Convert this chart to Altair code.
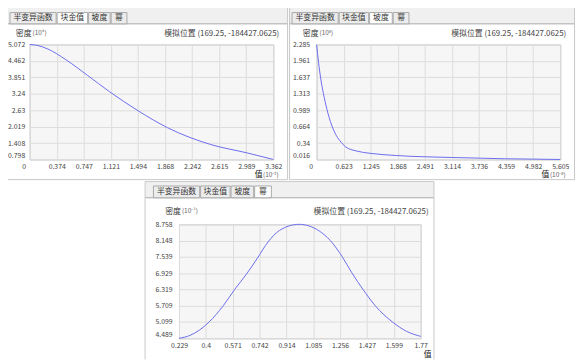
import altair as alt
import pandas as pd

FONT = "Noto Sans CJK SC"
LINE_COLOR = "#6b6bee"

# ---------------- text ----------------
tab_labels = ["半变异函数", "块金值", "坡度", "幂"]
density_label = "密度"
location_label = "模拟位置 (169.25, -184427.0625)"
value_label = "值"

# ---------------- panel 1: 块金值 ----------------
nugget_x = [0, 0.1, 0.25, 0.5, 0.8, 1.1, 1.5, 1.9, 2.5, 3.0, 3.362]
nugget_y = [5.072, 5.042, 4.907, 4.507, 3.922, 3.322, 2.602, 1.982, 1.352, 1.042, 0.798]
nugget_xticks = [0, 0.374, 0.747, 1.121, 1.494, 1.868, 2.242, 2.615, 2.989, 3.362]
nugget_yticks = [0.798, 1.408, 2.019, 2.63, 3.24, 3.851, 4.462, 5.072]
nugget_y_exp = "(10⁴)"
nugget_x_exp = "(10⁻⁵)"

# ---------------- panel 2: 坡度 ----------------
slope_x = [0, 0.045, 0.097, 0.158, 0.233, 0.346, 0.452, 0.565, 0.662, 0.927, 1.227, 1.831, 3.112, 4.317, 5.605]
slope_y = [2.285, 1.936, 1.606, 1.315, 1.025, 0.695, 0.492, 0.356, 0.268, 0.181, 0.138, 0.094, 0.055, 0.030, 0.016]
slope_xticks = [0, 0.623, 1.245, 1.868, 2.491, 3.114, 3.736, 4.359, 4.982, 5.605]
slope_yticks = [0.016, 0.34, 0.664, 0.989, 1.313, 1.637, 1.961, 2.285]
slope_y_exp = "(10⁸)"
slope_x_exp = "(10⁻⁸)"

# ---------------- panel 3: 幂 ----------------
power_x = [0.229, 0.30, 0.36, 0.421, 0.511, 0.584, 0.66, 0.73, 0.797, 0.87, 0.995,
           1.12, 1.194, 1.27, 1.33, 1.402, 1.48, 1.59, 1.68, 1.77]
power_y = [4.489, 4.60, 4.80, 5.099, 5.709, 6.319, 6.90, 7.50, 8.10, 8.53, 8.758,
           8.52, 8.148, 7.54, 6.95, 6.319, 5.709, 5.099, 4.75, 4.562]
power_xticks = [0.229, 0.4, 0.571, 0.742, 0.914, 1.085, 1.256, 1.427, 1.599, 1.77]
power_yticks = [4.489, 5.099, 5.709, 6.319, 6.929, 7.539, 8.148, 8.758]
power_y_exp = "(10⁻¹)"

one = pd.DataFrame({"k": [0]})


def txt(s, x, y, size=8.0, color="#333333", align="left"):
    return alt.Chart(one).mark_text(
        text=s, font=FONT, fontSize=size, color=color, align=align, baseline="middle"
    ).encode(x=alt.value(x), y=alt.value(y))


def rect(x0, x1, y0, y1, fill, stroke=None):
    kw = dict(fill=fill)
    if stroke:
        kw.update(stroke=stroke, strokeWidth=1)
    return alt.Chart(one).mark_rect(**kw).encode(
        x=alt.value(x0), x2=alt.value(x1), y=alt.value(y0), y2=alt.value(y1)
    )


def hrule(x0, x1, y, color):
    return alt.Chart(one).mark_rule(color=color, strokeWidth=1).encode(
        x=alt.value(x0), x2=alt.value(x1), y=alt.value(y)
    )


def vrule(x, y0, y1, color):
    return alt.Chart(one).mark_rule(color=color, strokeWidth=1).encode(
        x=alt.value(x), y=alt.value(y0), y2=alt.value(y1)
    )


def curve(xs, ys, xticks, yticks, ypad):
    df = pd.DataFrame({"value": xs, "density": ys})
    common = dict(
        labelExpr="format(datum.value, '~g')", title=None, grid=True, gridColor="#dcdcdc",
        ticks=False, tickSize=0, domain=False, labelFont=FONT, labelFontSize=7,
        labelColor="#444444", labelOverlap=False,
    )
    x_axis = alt.Axis(
        values=xticks, labelPadding=3, labelFlush=False,
        labelOffset={"condition": {"test": "datum.value === 0", "value": -6}, "value": 0},
        **common,
    )
    y_axis = alt.Axis(
        values=yticks, labelPadding=ypad,
        labelOffset={"condition": {"test": f"datum.value === {yticks[0]}", "value": -4}, "value": 0},
        **common,
    )
    return alt.Chart(df).mark_line(
        color=LINE_COLOR, strokeWidth=1, interpolate="monotone"
    ).encode(
        x=alt.X("value:Q", scale=alt.Scale(domain=[xticks[0], xticks[-1]], nice=False, zero=False), axis=x_axis),
        y=alt.Y("density:Q", scale=alt.Scale(domain=[yticks[0], yticks[-1]], nice=False, zero=False), axis=y_axis),
    )


def tabs(spans, ytop, ybot, active):
    layers = []
    for i, (a, b) in enumerate(spans):
        fill = "#ffffff" if i == active else "#ececec"
        layers.append(rect(a, b, ytop, ybot, fill, "#a8a8a8"))
        layers.append(txt(tab_labels[i], (a + b) / 2, (ytop + ybot) / 2, 8, "#333333", "center"))
    return layers


left_tab_spans = [(-20, 27), (28, 59), (60, 82), (83, 99)]
right_tab_spans = [(-25, 22), (23, 53), (54, 77), (78, 94)]
bottom_tab_spans = [(-26, 21), (22, 52), (53, 76), (77, 94)]


def top_panel(xs, ys, xticks, yticks, active, y_exp, x_exp, left_edge, spans, ypad):
    layers = [
        rect(left_edge, 262.5, -40.5, -21, "#f0f0f0"),
        hrule(left_edge, 262.5, -21, "#a8a8a8"),
        rect(left_edge, 262.5, -40.5, 137.5, "transparent", "#c8c8c8"),
    ]
    layers += tabs(spans, -32.5, -21, active)
    layers += [
        txt(density_label, -14, -11, 8, "#333333"),
        txt(y_exp, 3, -11.5, 6.5, "#666666"),
        txt(location_label, 254, -10.5, 8, "#444444", "right"),
        txt(value_label, 229, 133, 8, "#222222"),
        txt(x_exp, 237.5, 132.5, 6.5, "#666666"),
        curve(xs, ys, xticks, yticks, ypad),
    ]
    return alt.layer(*layers).properties(width=248, height=117)


def bottom_panel(xs, ys, xticks, yticks, active, y_exp):
    layers = [
        rect(-34.5, 259.5, -43.5, -27, "#f0f0f0"),
        hrule(-34.5, 259.5, -27, "#a8a8a8"),
        hrule(-34.5, 259.5, -43.5, "#c8c8c8"),
        vrule(-34.5, -43.5, 137.5, "#c8c8c8"),
        vrule(259.5, -43.5, 137.5, "#c8c8c8"),
    ]
    layers += tabs(bottom_tab_spans, -39, -27, active)
    layers += [
        txt(density_label, -14, -13, 8, "#333333"),
        txt(y_exp, 3, -13.5, 6.5, "#666666"),
        txt(location_label, 254, -12, 8, "#444444", "right"),
        txt(value_label, 253, 133, 8, "#222222", "center"),
        curve(xs, ys, xticks, yticks, 7),
    ]
    return alt.layer(*layers).properties(width=246, height=116)


p1 = top_panel(nugget_x, nugget_y, nugget_xticks, nugget_yticks, 1, nugget_y_exp, nugget_x_exp, -28.5, left_tab_spans, 5)
p2 = top_panel(slope_x, slope_y, slope_xticks, slope_yticks, 2, slope_y_exp, slope_x_exp, -27.5, right_tab_spans, 7)
p3 = bottom_panel(power_x, power_y, power_xticks, power_yticks, 3, power_y_exp)

spacer = alt.Chart(one).mark_point(opacity=0).encode(
    x=alt.value(0), y=alt.value(0)
).properties(width=100, height=116, view=alt.ViewBackground(fill="transparent", stroke="transparent"))

top = alt.hconcat(p1, p2, spacing=44, bounds="flush")
bottom = alt.hconcat(spacer, p3, spacing=52, bounds="flush")

chart = alt.vconcat(top, bottom, spacing=183, bounds="flush").properties(
    padding={"left": -8, "top": -8, "right": 0, "bottom": 0}
).configure_view(fill="#f6f6f6", stroke="#c4c4c4")

chart.save("out.html", embed_options={"renderer": "svg", "actions": False})
